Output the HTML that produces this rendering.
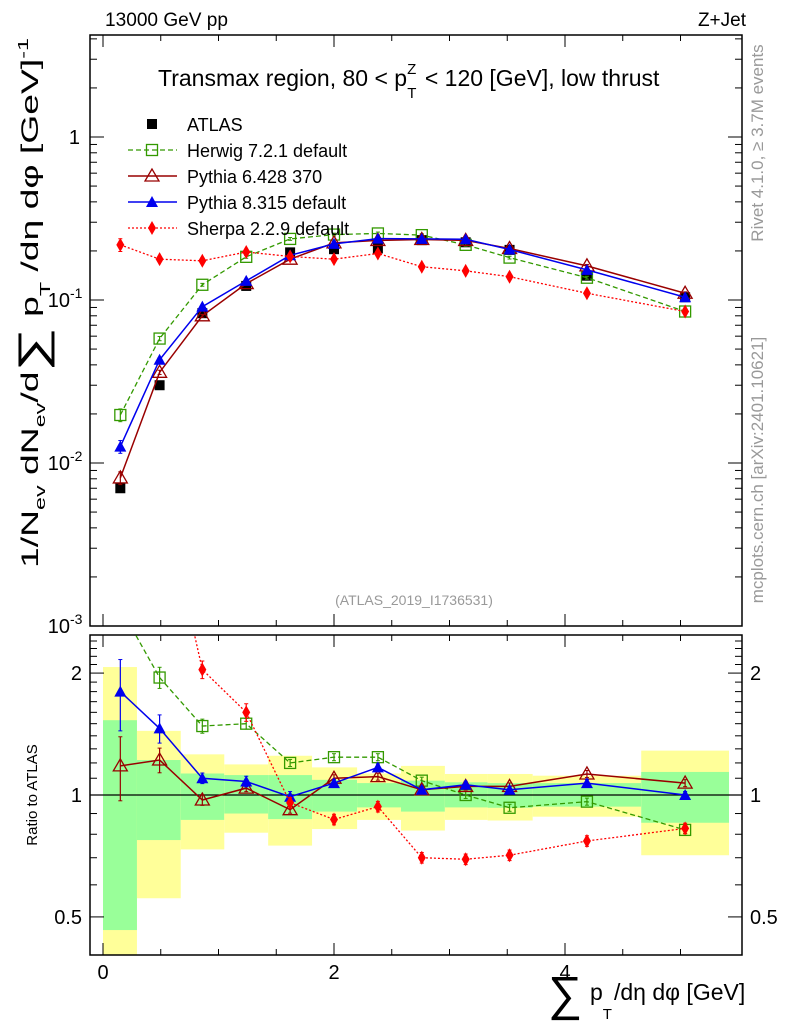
<!DOCTYPE html>
<html><head><meta charset="utf-8"><style>
html,body{margin:0;padding:0;background:#fff;}
svg{display:block;font-family:"Liberation Sans","DejaVu Sans",sans-serif;}
</style></head><body>
<svg id="chart" width="786" height="1024" viewBox="0 0 786 1024" xmlns="http://www.w3.org/2000/svg">
<defs>
<clipPath id="clipTop"><rect x="90" y="35" width="652" height="591"/></clipPath>
<clipPath id="clipBot"><rect x="90" y="635" width="652" height="320"/></clipPath>
</defs>
<g id="bands" clip-path="url(#clipBot)"></g>
<g id="frames"></g>
<g id="series-top" clip-path="url(#clipTop)"></g>
<g id="series-bot" clip-path="url(#clipBot)"></g>
<text x="105" y="26" font-size="19" textLength="123" lengthAdjust="spacingAndGlyphs">13000 GeV pp</text>
<text x="746" y="26" font-size="19" text-anchor="end">Z+Jet</text>
<text x="158" y="86" font-size="23">Transmax region, 80 &lt; p<tspan font-size="15" dy="-12">Z</tspan><tspan font-size="15" dx="-9" dy="24">T</tspan><tspan dy="-12" dx="2"> &lt; 120 [GeV], low thrust</tspan></text>
<text x="414" y="605" font-size="14" fill="#999" text-anchor="middle">(ATLAS_2019_I1736531)</text>
<text transform="translate(763,143) rotate(-90)" font-size="17" fill="#999" text-anchor="middle">Rivet 4.1.0, ≥ 3.7M events</text>
<text transform="translate(763,470) rotate(-90)" font-size="17" fill="#999" text-anchor="middle">mcplots.cern.ch [arXiv:2401.10621]</text>
<text transform="translate(38,568) rotate(-90)" font-size="24" textLength="530" lengthAdjust="spacingAndGlyphs">1/N<tspan font-size="15" dy="7">ev</tspan><tspan dy="-7"> dN</tspan><tspan font-size="15" dy="7">ev</tspan><tspan dy="-7">/d</tspan><tspan font-size="40" dy="8">∑</tspan><tspan dy="-8"> p</tspan><tspan font-size="15" dy="12">T</tspan><tspan dy="-12"> /dη dφ  [GeV]</tspan><tspan font-size="15" dy="-10">-1</tspan></text>
<text transform="translate(37,795) rotate(-90)" font-size="15" text-anchor="middle">Ratio to ATLAS</text>
<text x="548" y="1010" font-size="48">∑</text>
<text x="590" y="1000" font-size="23">p<tspan font-size="15" dy="19">T</tspan><tspan dy="-19" dx="2">/dη dφ [GeV]</tspan></text>
<g id="legend"></g>
</svg>
<script>
// ---- data ----
const binCenters = [0.15,0.49,0.86,1.24,1.62,2.0,2.38,2.76,3.14,3.52,4.19,5.04];
const binEdges = [0,0.294,0.673,1.05,1.43,1.81,2.2,2.58,2.96,3.33,3.72,4.66,5.42];
const atlasValues = [0.0070,0.030,0.083,0.122,0.196,0.205,0.207,0.233,0.226,0.203,0.141,0.104];
const herwigValues = [0.0197,0.058,0.124,0.184,0.237,0.252,0.256,0.25,0.218,0.182,0.137,0.085];
const pythia6Values = [0.0081,0.036,0.080,0.126,0.178,0.224,0.232,0.235,0.232,0.207,0.162,0.110];
const pythia8Values = [0.0126,0.043,0.091,0.131,0.188,0.221,0.238,0.237,0.236,0.204,0.153,0.104];
const sherpaValues = [0.218,0.178,0.174,0.197,0.185,0.178,0.193,0.160,0.151,0.139,0.110,0.085];
const herwigRatio = [2.9,1.95,1.48,1.50,1.20,1.24,1.24,1.085,1.0,0.93,0.963,0.82];
const pythia6Ratio = [1.18,1.22,0.972,1.04,0.92,1.10,1.11,1.03,1.05,1.05,1.127,1.07];
const pythia8Ratio = [1.80,1.46,1.10,1.08,0.99,1.07,1.17,1.03,1.06,1.03,1.07,1.0];
const sherpaRatio = [31,6,2.04,1.60,0.957,0.87,0.936,0.70,0.694,0.71,0.77,0.827];
const topErr = [0.09,0.03,0.02,0.02,0.02,0.02,0.02,0.02,0.02,0.02,0.02,0.02];
const pythia6RatioErr = [0.18,0.07,0.03,0.02,0.02,0.02,0.02,0.02,0.02,0.02,0.02,0.02];
const pythia8RatioErr = [0.2,0.08,0.03,0.03,0.03,0.02,0.02,0.02,0.02,0.02,0.02,0.02];
const herwigRatioErr = [0.1,0.06,0.04,0.03,0.02,0.02,0.02,0.02,0.02,0.02,0.02,0.02];
const sherpaRatioErr = [0.5,0.2,0.05,0.05,0.03,0.03,0.03,0.03,0.03,0.03,0.03,0.03];
const bandYellowHi = [2.07,1.44,1.26,1.19,1.25,1.17,1.13,1.18,1.127,1.127,1.116,1.287];
const bandGreenHi = [1.53,1.22,1.13,1.12,1.12,1.09,1.07,1.085,1.075,1.07,1.07,1.14];
const bandGreenLo = [0.464,0.774,0.868,0.90,0.872,0.91,0.932,0.91,0.932,0.93,0.936,0.854];
const bandYellowLo = [0.35,0.556,0.734,0.807,0.75,0.824,0.868,0.817,0.868,0.865,0.884,0.71];
const xTicks = [0,2,4];
const ratioTicks = [2,1,0.5];

// ---- axes ----
const NS="http://www.w3.org/2000/svg";
const X=v=>103+v*115.5;
const YT=v=>137-Math.log10(v)*163;
const YB=v=>795-Math.log10(v)*405;
function mk(tag,attrs,parent){const e=document.createElementNS(NS,tag);for(const k in attrs)e.setAttribute(k,attrs[k]);parent.appendChild(e);return e;}
const bands=document.getElementById('bands'),frames=document.getElementById('frames');
const st=document.getElementById('series-top'),sb=document.getElementById('series-bot'),lg=document.getElementById('legend');

for(let i=0;i<binCenters.length;i++){
  const x0=X(binEdges[i]),x1=X(binEdges[i+1]);
  let r=mk('rect',{x:x0,y:YB(bandYellowHi[i]),width:x1-x0,height:YB(bandYellowLo[i])-YB(bandYellowHi[i]),fill:'#ffff99'},bands);
  
  
  r=mk('rect',{x:x0,y:YB(bandGreenHi[i]),width:x1-x0,height:YB(bandGreenLo[i])-YB(bandGreenHi[i]),fill:'#99ff99'},bands);
  
  
}
[[35,626],[635,955]].forEach(([t,b])=>{
  mk('rect',{x:90,y:t,width:652,height:b-t,fill:'none',stroke:'#000','stroke-width':1.5},frames);
  for(let v=0;v<=5.4;v+=0.5){
    const big=Math.abs(v%2)<0.01;const L=big?12:6;
    mk('line',{x1:X(v),x2:X(v),y1:b,y2:b-L,stroke:'#000'},frames);
    mk('line',{x1:X(v),x2:X(v),y1:t,y2:t+L,stroke:'#000'},frames);
  }
});
mk('line',{x1:90,x2:742,y1:YB(1),y2:YB(1),stroke:'#000','stroke-width':1.2},frames);
for(let d=-3;d<=0;d++){for(let m=1;m<10;m++){const v=m*Math.pow(10,d);const y=YT(v);if(y<35||y>626)continue;const L=m==1?14:7;
  mk('line',{x1:90,x2:90+L,y1:y,y2:y,stroke:'#000'},frames);mk('line',{x1:742,x2:742-L,y1:y,y2:y,stroke:'#000'},frames);}}
const tl=[[1,'1'],[0.1,'10','-1'],[0.01,'10','-2'],[0.001,'10','-3']];
tl.forEach(([v,a,e])=>{const t=mk('text',{x:e?70:80,y:YT(v)+7,'font-size':20,'text-anchor':'end'},frames);t.textContent=a;
  
  
  if(e){const s=mk('text',{x:70,y:YT(v)-2,'font-size':14},frames);s.textContent=e;}});
for(let v=0.4;v<=2.5;v+=0.1){const y=YB(v);if(y<635||y>955)continue;const big=[0.5,1,2].some(q=>Math.abs(q-v)<0.01);const L=big?14:7;
  mk('line',{x1:90,x2:90+L,y1:y,y2:y,stroke:'#000'},frames);mk('line',{x1:742,x2:742-L,y1:y,y2:y,stroke:'#000'},frames);}
ratioTicks.forEach(v=>{[[82,'end'],[750,'start']].forEach(([x,a])=>{const t=mk('text',{x:x,y:YB(v)+7,'font-size':20,'text-anchor':a},frames);t.textContent=String(v);
  
  });});
xTicks.forEach(v=>{const t=mk('text',{x:X(v),y:979,'font-size':20,'text-anchor':'middle'},frames);t.textContent=String(v);
  
  });

function marker(kind,x,y,col,g){
  if(kind=='sq')return mk('rect',{x:x-5,y:y-5,width:10,height:10,fill:'#000'},g);
  if(kind=='osq')return mk('rect',{x:x-5.5,y:y-5.5,width:11,height:11,fill:'#fff','fill-opacity':0,stroke:col,'stroke-width':1.3},g);
  if(kind=='otri')return mk('polygon',{points:`${x},${y-7} ${x-7},${y+5} ${x+7},${y+5}`,fill:'none',stroke:col,'stroke-width':1.3},g);
  if(kind=='tri')return mk('polygon',{points:`${x},${y-6} ${x-6},${y+5} ${x+6},${y+5}`,fill:col},g);
  if(kind=='dia')return mk('polygon',{points:`${x},${y-7} ${x-4},${y} ${x},${y+7} ${x+4},${y}`,fill:col},g);
}
function errbar(x,v,e,col,Y,g){
  const y1=Y(v*(1+e)),y2=Y(v*(1-e));
  mk('line',{x1:x,x2:x,y1:y1,y2:y2,stroke:col,'stroke-width':1.2},g);
  mk('line',{x1:x-2,x2:x+2,y1:y1,y2:y1,stroke:col},g);
  mk('line',{x1:x-2,x2:x+2,y1:y2,y2:y2,stroke:col},g);
}
const series=[
 {name:'herwig',vals:herwigValues,rat:herwigRatio,err:herwigRatioErr,col:'#339900',m:'osq',dash:'5,3',w:1.3,label:'Herwig 7.2.1 default'},
 {name:'pythia6',vals:pythia6Values,rat:pythia6Ratio,err:pythia6RatioErr,col:'#990000',m:'otri',dash:'',w:1.5,label:'Pythia 6.428 370'},
 {name:'pythia8',vals:pythia8Values,rat:pythia8Ratio,err:pythia8RatioErr,col:'#0000ee',m:'tri',dash:'',w:1.5,label:'Pythia 8.315 default'},
 {name:'sherpa',vals:sherpaValues,rat:sherpaRatio,err:sherpaRatioErr,col:'#ff0000',m:'dia',dash:'2,2',w:1.3,label:'Sherpa 2.2.9 default'}];
atlasValues.forEach((v,i)=>{const e=marker('sq',X(binCenters[i]),YT(v),'#000',st);
  
  });
series.forEach(s=>{
  const pts=s.vals.map((v,i)=>X(binCenters[i])+','+YT(v)).join(' ');
  const l=mk('polyline',{points:pts,fill:'none',stroke:s.col,'stroke-width':s.w,'stroke-dasharray':s.dash},st);
  
  
  s.vals.forEach((v,i)=>{errbar(X(binCenters[i]),v,topErr[i],s.col,YT,st);
    const e=marker(s.m,X(binCenters[i]),YT(v),s.col,st);
    
    });
  const rp=s.rat.map((v,i)=>X(binCenters[i])+','+YB(v)).join(' ');
  const l2=mk('polyline',{points:rp,fill:'none',stroke:s.col,'stroke-width':s.w,'stroke-dasharray':s.dash},sb);
  
  
  s.rat.forEach((v,i)=>{const x=X(binCenters[i]);
    errbar(x,v,s.err[i],s.col,YB,sb);
    const e=marker(s.m,x,YB(v),s.col,sb);
    
    });
});
const ly=[124,150,176,202,228];
marker('sq',152,ly[0],'#000',lg);
const t0=mk('text',{x:187,y:ly[0]+7,'font-size':18},lg);t0.textContent='ATLAS';


series.forEach((s,k)=>{const y=ly[k+1];
  mk('line',{x1:128,x2:177,y1:y,y2:y,stroke:s.col,'stroke-width':s.w,'stroke-dasharray':s.dash},lg);
  marker(s.m,152,y,s.col,lg);
  const t=mk('text',{x:187,y:y+7,'font-size':18},lg);t.textContent=s.label;
  
  });
</script>
</body></html>
